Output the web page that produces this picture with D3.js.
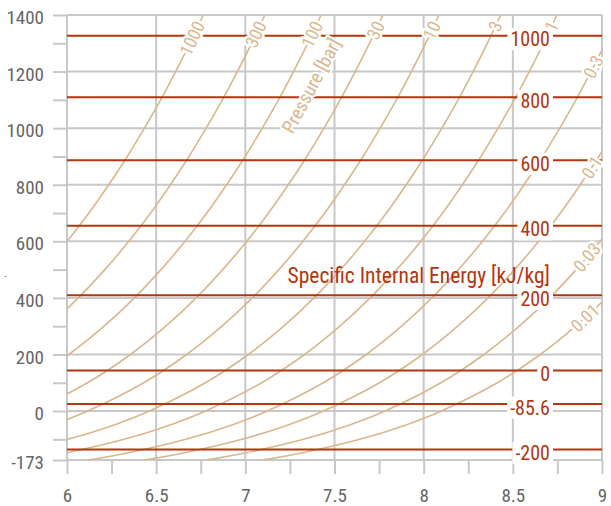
<!DOCTYPE html>
<html>
<head>
<meta charset="utf-8">
<script src="https://cdn.jsdelivr.net/npm/d3@7"></script>
<style>
  body { margin: 0; background: #fff; }
  text { font-family: "Liberation Sans Narrow", "Roboto Condensed", "DejaVu Sans Condensed", "Arial Narrow", sans-serif; font-stretch: condensed; }
</style>
</head>
<body>
<script>
// temperature levels (degC) shared by every isobar
var temps = [-173, -150, -100, -50, 0, 100, 200, 300, 400, 500, 600, 700, 800, 900, 1000, 1100, 1200, 1300, 1400];

// specific entropy [kJ/kgK] of each isobar at those temperatures
var p1000 = [3.787, 3.996, 4.337, 4.592, 4.794, 5.108, 5.349, 5.547, 5.717, 5.866, 6.001, 6.123, 6.234, 6.338, 6.434, 6.525, 6.609, 6.689, 6.764];
var p300  = [4.133, 4.342, 4.683, 4.938, 5.140, 5.454, 5.695, 5.893, 6.063, 6.212, 6.347, 6.469, 6.580, 6.684, 6.780, 6.871, 6.955, 7.035, 7.110];
var p100  = [4.448, 4.657, 4.998, 5.253, 5.455, 5.769, 6.010, 6.208, 6.378, 6.527, 6.662, 6.784, 6.895, 6.999, 7.095, 7.186, 7.270, 7.350, 7.425];
var p30   = [4.794, 5.003, 5.344, 5.599, 5.801, 6.115, 6.356, 6.554, 6.724, 6.873, 7.008, 7.130, 7.241, 7.345, 7.441, 7.532, 7.616, 7.696, 7.771];
var p10   = [5.109, 5.318, 5.659, 5.914, 6.116, 6.430, 6.671, 6.869, 7.039, 7.188, 7.323, 7.445, 7.556, 7.660, 7.756, 7.847, 7.931, 8.011, 8.086];
var p3    = [5.455, 5.664, 6.005, 6.260, 6.462, 6.776, 7.017, 7.215, 7.385, 7.534, 7.669, 7.791, 7.902, 8.006, 8.102, 8.193, 8.277, 8.357, 8.432];
var p1    = [5.770, 5.979, 6.320, 6.575, 6.777, 7.091, 7.332, 7.530, 7.700, 7.849, 7.984, 8.106, 8.217, 8.321, 8.417, 8.508, 8.592, 8.672, 8.747];
var p03   = [6.116, 6.325, 6.666, 6.921, 7.123, 7.437, 7.678, 7.876, 8.046, 8.195, 8.330, 8.452, 8.563, 8.667, 8.763, 8.854, 8.938, 9.018, 9.093];
var p01   = [6.431, 6.640, 6.981, 7.236, 7.438, 7.752, 7.993, 8.191, 8.361, 8.510, 8.645, 8.767, 8.878, 8.982, 9.078, 9.169, 9.253, 9.333, 9.408];
var p003  = [6.776, 6.985, 7.326, 7.581, 7.783, 8.097, 8.338, 8.536, 8.706, 8.855, 8.990, 9.112, 9.223, 9.327, 9.423, 9.514, 9.598, 9.678, 9.753];
var p001  = [7.092, 7.301, 7.642, 7.897, 8.099, 8.413, 8.654, 8.852, 9.022, 9.171, 9.306, 9.428, 9.539, 9.643, 9.739, 9.830, 9.914, 9.994, 10.069];

var pressureLabels = ["1000", "300", "100", "30", "10", "3", "1", "0.3", "0.1", "0.03", "0.01"];
var isobarSeries = [p1000, p300, p100, p30, p10, p3, p1, p03, p01, p003, p001];

// lines of constant specific internal energy [kJ/kg] and their temperature
var energyLabels = ["1000", "800", "600", "400", "200", "0", "-85.6", "-200"];
var energyTemps = [1327, 1109, 887, 655, 409, 143, 25, -136];

var yTicks = [-173, 0, 200, 400, 600, 800, 1000, 1200, 1400];
var yMinor = [-100, 100, 300, 500, 700, 900, 1100, 1300];
var xTicks = [6, 6.5, 7, 7.5, 8, 8.5, 9];
var xMinor = [6.25, 6.75, 7.25, 7.75, 8.25, 8.75];

var width = 611, height = 506;
var margin = {top: 15, right: 9, bottom: 46, left: 67};
var gridCol = "#c8c8c8", tan = "#dbb78e", red = "#b2360f", axisText = "#666";

var svg = d3.select("body").append("svg")
  .attr("width", width)
  .attr("height", height);

var x = d3.scaleLinear().domain([6, 9]).range([margin.left, width - margin.right]);
var y = d3.scaleLinear().domain([-173, 1400]).range([height - margin.bottom, margin.top]);

// grid
svg.append("g").selectAll("line.hgrid")
  .data(yTicks).enter().append("line")
  .attr("x1", x(6)).attr("x2", x(9))
  .attr("y1", d => y(d)).attr("y2", d => y(d))
  .style("stroke", gridCol).style("stroke-width", 2);

svg.append("g").selectAll("line.vgrid")
  .data(xTicks).enter().append("line")
  .attr("x1", d => x(d)).attr("x2", d => x(d))
  .attr("y1", y(1400)).attr("y2", y(-173))
  .style("stroke", gridCol).style("stroke-width", 2);

// axes
function styleAxis(g) {
  g.select(".domain").remove();
  g.selectAll(".tick line").style("stroke", gridCol).style("stroke-width", 2);
  g.selectAll(".tick text").style("fill", axisText).style("font-size", "19px");
}

svg.append("g")
  .attr("transform", `translate(${margin.left},0)`)
  .call(d3.axisLeft(y).tickValues(yTicks).tickSize(14).tickPadding(9).tickFormat(d => String(d)))
  .call(styleAxis)
  .selectAll(".tick text").attr("dy", "0.45em");

svg.append("g")
  .attr("transform", `translate(${margin.left},0)`)
  .call(d3.axisLeft(y).tickValues(yMinor).tickSize(14).tickFormat(""))
  .call(styleAxis);

svg.append("g")
  .attr("transform", `translate(0,${y(-173)})`)
  .call(d3.axisBottom(x).tickValues(xTicks).tickSize(14).tickPadding(15).tickFormat(d => String(d)))
  .call(styleAxis);

svg.append("g")
  .attr("transform", `translate(0,${y(-173)})`)
  .call(d3.axisBottom(x).tickValues(xMinor).tickSize(14).tickFormat(""))
  .call(styleAxis);

svg.append("text")
  .attr("x", 4).attr("y", 277)
  .style("font-size", "10px").style("fill", "#444")
  .text(".");

// isobars
svg.append("clipPath").attr("id", "plot")
  .append("rect")
  .attr("x", x(6)).attr("y", y(1400))
  .attr("width", x(9) - x(6)).attr("height", y(-173) - y(1400));

var line = d3.line()
  .x(d => x(d[0]))
  .y(d => y(d[1]))
  .curve(d3.curveCatmullRom.alpha(0.5));

var isobars = pressureLabels.map((p, i) => ({
  p: p,
  pts: isobarSeries[i].map((s, j) => [s, temps[j]])
}));

var isoPaths = svg.append("g")
  .attr("clip-path", "url(#plot)")
  .selectAll("path")
  .data(isobars).enter().append("path")
  .attr("d", d => line(d.pts))
  .style("fill", "none")
  .style("stroke", tan)
  .style("stroke-width", 1.6);

// energy lines
svg.append("g").selectAll("line")
  .data(energyTemps).enter().append("line")
  .attr("x1", x(6)).attr("x2", x(9))
  .attr("y1", d => y(d)).attr("y2", d => y(d))
  .style("stroke", red).style("stroke-width", 2);

// isobar labels, placed just before each curve leaves the plot
var x0 = x(6), x1 = x(9), yTop = y(1400), yBot = y(-173);
var isoLabels = svg.append("g");
isoPaths.each(function(d) {
  var node = this, L = node.getTotalLength();
  var inside = false, exitL = L;
  for (var l = 0; l <= L; l += 0.5) {
    var q = node.getPointAtLength(l);
    var inn = q.x >= x0 && q.x <= x1 && q.y >= yTop && q.y <= yBot;
    if (inn) inside = true;
    else if (inside) { exitL = l; break; }
  }
  var la = exitL - 8;
  var p = node.getPointAtLength(la),
      a = node.getPointAtLength(la - 2),
      b = node.getPointAtLength(la + 2);
  var ang = Math.atan2(b.y - a.y, b.x - a.x) * 180 / Math.PI;
  isoLabels.append("text")
    .attr("transform", `translate(${p.x},${p.y}) rotate(${ang})`)
    .attr("text-anchor", "end")
    .attr("dy", "0.35em")
    .style("font-size", "18px")
    .style("fill", tan)
    .style("stroke", "#fff")
    .style("stroke-width", 5)
    .style("stroke-linejoin", "round")
    .style("paint-order", "stroke")
    .text(d.p);
});

svg.append("text")
  .attr("transform", `translate(${x(7.37)},${y(1150)}) rotate(-62)`)
  .attr("text-anchor", "middle")
  .attr("dy", "0.35em")
  .style("font-size", "19px")
  .style("fill", tan)
  .style("stroke", "#fff")
  .style("stroke-width", 4)
  .style("stroke-linejoin", "round")
  .style("paint-order", "stroke")
  .text("Pressure [bar]");

// energy labels with white box behind
var eLab = svg.append("g").selectAll("g")
  .data(energyTemps).enter().append("g");

eLab.append("text")
  .attr("x", 550)
  .attr("y", d => y(d))
  .attr("dy", "0.53em")
  .attr("text-anchor", "end")
  .style("font-size", "20px")
  .style("fill", red)
  .text((d, i) => energyLabels[i]);

eLab.each(function() {
  var g = d3.select(this), bb = g.select("text").node().getBBox();
  g.insert("rect", "text")
    .attr("x", bb.x - 3).attr("y", bb.y + 1)
    .attr("width", bb.width + 6).attr("height", bb.height - 2)
    .style("fill", "#fff");
});

svg.append("text")
  .attr("x", 550).attr("y", 283)
  .attr("text-anchor", "end")
  .style("font-size", "21.5px")
  .style("fill", red)
  .text("Specific Internal Energy [kJ/kg]");
</script>
</body>
</html>
